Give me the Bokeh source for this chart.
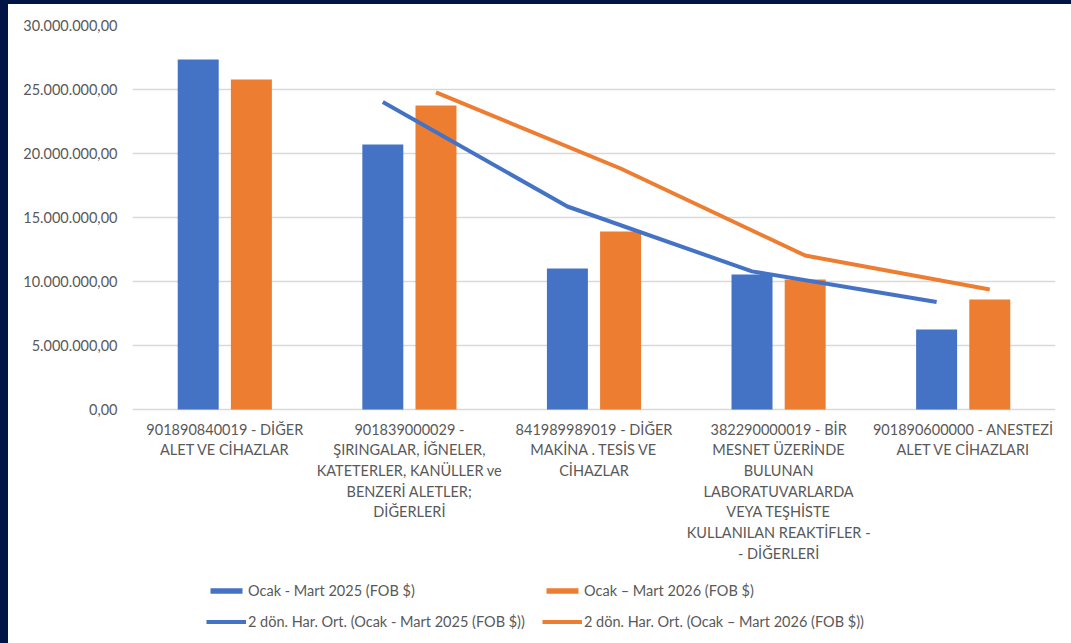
from bokeh.plotting import figure
from bokeh.models import ColumnDataSource, FixedTicker, Legend, LegendItem, Spacer
from bokeh.layouts import row, column
from bokeh.transform import dodge
from bokeh.core.properties import value
from bokeh.embed import file_html
from bokeh.resources import INLINE

categories = [
    "901890840019 - DİĞER\nALET VE CİHAZLAR",
    "901839000029 -\nŞIRINGALAR, İĞNELER,\nKATETERLER, KANÜLLER ve\nBENZERİ ALETLER;\nDİĞERLERİ",
    "841989989019 - DİĞER\nMAKİNA . TESİS VE\nCİHAZLAR",
    "382290000019 - BİR\nMESNET ÜZERİNDE\nBULUNAN\nLABORATUVARLARDA\nVEYA TEŞHİSTE\nKULLANILAN REAKTİFLER -\n- DİĞERLERİ",
    "901890600000 - ANESTEZİ\nALET VE CİHAZLARI",
]
values_2025 = [27340000, 20700000, 11020000, 10550000, 6250000]
values_2026 = [25780000, 23750000, 13900000, 10160000, 8600000]
ma_categories = categories[1:]
ma_2025 = [24020000, 15860000, 10790000, 8400000]
ma_2026 = [24770000, 18830000, 12030000, 9380000]

y_ticks = [0, 5000000, 10000000, 15000000, 20000000, 25000000, 30000000]
y_tick_labels = ["0,00", "5.000.000,00", "10.000.000,00", "15.000.000,00",
                 "20.000.000,00", "25.000.000,00", "30.000.000,00"]

label_2025 = "Ocak - Mart 2025 (FOB $)"
label_2026 = "Ocak \u2013 Mart 2026 (FOB $)"
label_ma_2025 = "2 dön. Har. Ort. (Ocak - Mart 2025 (FOB $))"
label_ma_2026 = "2 dön. Har. Ort. (Ocak \u2013 Mart 2026 (FOB $))"

BLUE = "#4472C4"
ORANGE = "#ED7D31"
GRAY_TEXT = "#595959"
NAVY = "#001446"
FONT = "Lato"
FS = "14.5px"

Y_MAX = 30000000
PX_PER_UNIT = 384 / Y_MAX
Y_MIN = -234 / PX_PER_UNIT  # room below the baseline for labels and legend

bar_src = ColumnDataSource(dict(cat=categories, v25=values_2025, v26=values_2026))
ma_src = ColumnDataSource(dict(cat=ma_categories, m25=ma_2025, m26=ma_2026))

p = figure(x_range=categories, y_range=(Y_MIN, Y_MAX), width=1063, height=639,
           output_backend="svg", toolbar_location=None,
           min_border_left=124, min_border_right=16, min_border_top=21, min_border_bottom=0)
p.outline_line_color = None
p.background_fill_color = "white"
p.border_fill_color = "white"

b1 = p.vbar(x=dodge("cat", -0.144, range=p.x_range), top="v25", width=0.222,
            source=bar_src, fill_color=BLUE, line_color=None)
b2 = p.vbar(x=dodge("cat", 0.144, range=p.x_range), top="v26", width=0.222,
            source=bar_src, fill_color=ORANGE, line_color=None)
l1 = p.line(x=dodge("cat", -0.144, range=p.x_range), y="m25", source=ma_src,
            line_color=BLUE, line_width=4)
l2 = p.line(x=dodge("cat", 0.144, range=p.x_range), y="m26", source=ma_src,
            line_color=ORANGE, line_width=4)

# category labels under the baseline
p.text(x="cat", y=0, text="cat", source=bar_src, text_align="center",
       text_baseline="top", y_offset=11, text_font=value(FONT),
       text_font_size=FS, text_color=GRAY_TEXT, text_line_height=1.22)

# axes
p.xaxis.visible = False
p.yaxis.ticker = FixedTicker(ticks=y_ticks)
p.yaxis.major_label_overrides = dict(zip(y_ticks, y_tick_labels))
p.yaxis.axis_line_color = None
p.yaxis.major_tick_line_color = None
p.yaxis.minor_tick_line_color = None
p.yaxis.major_label_standoff = 9
p.yaxis.major_label_text_font = FONT
p.yaxis.major_label_text_font_size = FS
p.yaxis.major_label_text_color = GRAY_TEXT

p.xgrid.grid_line_color = None
p.ygrid.grid_line_color = "#d9d9d9"
p.ygrid.grid_line_width = 1.5

legA = Legend(items=[LegendItem(label=label_2025, renderers=[b1]),
                     LegendItem(label=label_ma_2025, renderers=[l1])],
              location=(74, 12))
legB = Legend(items=[LegendItem(label=label_2026, renderers=[b2]),
                     LegendItem(label=label_ma_2026, renderers=[l2])],
              location=(410, 12))
for lg in (legA, legB):
    lg.border_line_color = None
    lg.background_fill_alpha = 0
    lg.label_text_font = FONT
    lg.label_text_font_size = FS
    lg.label_text_color = GRAY_TEXT
    lg.glyph_width = 40
    lg.glyph_height = 7
    lg.label_standoff = 2
    lg.spacing = 11
    lg.padding = 0
    lg.margin = 0
    lg.label_height = 20
    p.add_layout(lg, "center")

top_band = Spacer(width=1071, height=4, styles={"background-color": NAVY})
left_band = Spacer(width=8, height=639, styles={"background-color": NAVY})
layout = column(top_band, row(left_band, p, spacing=0), spacing=0)

open("out.html", "w").write(file_html(layout, INLINE))
